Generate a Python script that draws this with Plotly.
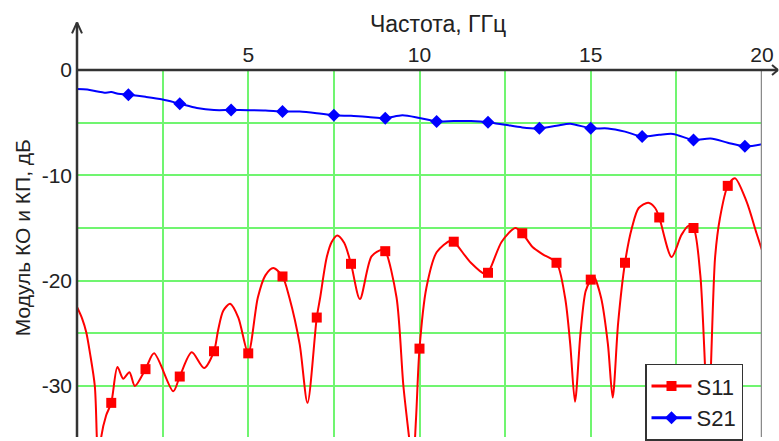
import plotly.graph_objects as go

# ---------------- data ----------------
s11_freq = [0.0, 0.15, 0.27, 0.38, 0.52, 0.58, 0.64, 0.70, 0.85, 1.0, 1.18, 1.35, 1.53, 1.69,
            2.0, 2.25, 2.81, 3.0, 3.35, 3.71, 4.0, 4.12, 4.27, 4.47, 4.71, 5.0, 5.28, 5.5,
            5.73, 6.0, 6.2, 6.5, 6.73, 7.0, 7.1, 7.29, 7.44, 7.6, 7.8, 8.0, 8.26, 8.6, 8.9,
            9.0, 9.33, 9.53, 9.7, 9.8, 9.9, 10.0, 10.2, 10.5, 10.9, 11.0, 11.5, 11.9, 12.0,
            12.4, 12.8, 13.0, 13.3, 13.6, 14.0, 14.25, 14.4, 14.54, 14.7, 14.85, 15.0, 15.08,
            15.3, 15.5, 15.64, 15.8, 16.0, 16.2, 16.4, 16.68, 16.88, 17.0, 17.36, 17.65, 17.85,
            18.0, 18.2, 18.43, 18.63, 18.77, 19.0, 19.21, 19.55, 19.84, 20.0]
s11_db = [-22.5, -23.6, -24.9, -26.9, -30.0, -35.0, -40.0, -35.0, -32.8, -31.6, -28.2, -29.3,
          -28.7, -30.0, -28.4, -26.9, -30.5, -29.1, -26.8, -28.3, -26.7, -24.7, -22.85, -22.2,
          -23.5, -26.9, -21.6, -19.5, -18.8, -19.6, -21.6, -26.0, -31.6, -23.5, -21.6, -17.8,
          -16.3, -15.7, -16.4, -18.4, -21.75, -17.7, -17.06, -17.2, -21.6, -30.0, -35.0, -38.0,
          -33.0, -26.45, -20.7, -17.3, -16.2, -16.3, -18.3, -19.35, -19.25, -16.3, -15.0, -15.5,
          -16.8, -17.5, -18.3, -21.6, -26.0, -31.5, -25.0, -21.0, -19.9, -19.56, -21.6, -26.0,
          -31.1, -24.0, -18.3, -15.0, -13.1, -12.6, -13.1, -14.0, -17.75, -15.65, -14.8, -15.0,
          -19.5, -33.0, -17.8, -14.1, -11.0, -10.27, -12.5, -15.5, -17.1]
s11_mark_freq = [1, 2, 3, 4, 5, 6, 7, 8, 9, 10, 11, 12, 13, 14, 15, 16, 17, 18, 19]
s11_mark_db = [-31.6, -28.4, -29.1, -26.7, -26.9, -19.6, -23.5, -18.4, -17.2, -26.45, -16.3,
               -19.25, -15.5, -18.3, -19.9, -18.3, -14.0, -15.0, -11.0]

s21_freq = [0.0, 0.3, 0.6, 0.8, 1.0, 1.2, 1.5, 2.0, 2.5, 3.0, 3.5, 4.0, 4.5, 5.0, 5.5, 6.0,
            6.5, 7.0, 7.5, 8.0, 8.5, 9.0, 9.5, 10.0, 10.5, 11.0, 11.5, 12.0, 12.5, 13.0,
            13.5, 14.0, 14.4, 15.0, 15.5, 16.0, 16.5, 17.0, 17.4, 18.0, 18.5, 19.0, 19.5, 20.0]
s21_db = [-1.8, -1.85, -2.05, -2.15, -2.1, -2.25, -2.35, -2.55, -2.8, -3.2, -3.6, -3.8, -3.8,
          -3.82, -3.85, -3.94, -3.95, -4.1, -4.3, -4.35, -4.45, -4.57, -4.29, -4.55, -4.88,
          -4.85, -4.85, -4.95, -5.2, -5.45, -5.54, -5.3, -5.1, -5.54, -5.55, -5.85, -6.32,
          -6.15, -6.07, -6.64, -6.5, -6.9, -7.25, -7.04]
s21_mark_freq = [1.5, 3.0, 4.5, 6.0, 7.5, 9.0, 10.5, 12.0, 13.5, 15.0, 16.5, 18.0, 19.5]
s21_mark_db = [-2.35, -3.2, -3.8, -3.94, -4.3, -4.57, -4.88, -4.95, -5.54, -5.54, -6.32,
               -6.64, -7.25]

x_tickvals = [2.5, 5, 7.5, 10, 12.5, 15, 17.5, 20]
x_ticktext = ["", "5", "", "10", "", "15", "", "20"]
y_tickvals = [0, -5, -10, -15, -20, -25, -30]
y_ticktext = ["0", "", "-10", "", "-20", "", "-30"]

# ---------------- layout geometry ----------------
W, H = 779, 441
L, R, T, B = 77, 762, 70, 441
def px(x):
    return (x - L) / (R - L)
def py(y):
    return (B - y) / (B - T)

FONT = "Arial, Liberation Sans, sans-serif"
RED = "#ff0000"
BLUE = "#0000ff"
GRID = "#70f570"
AX = "#333333"

fig = go.Figure()
fig.add_trace(go.Scatter(x=s11_freq, y=s11_db, mode="lines", line=dict(color=RED, width=2, shape="spline", smoothing=0.8),
                         showlegend=False, hoverinfo="skip"))
fig.add_trace(go.Scatter(x=s11_mark_freq, y=s11_mark_db, mode="markers",
                         marker=dict(symbol="square", size=10, color=RED), showlegend=False))
fig.add_trace(go.Scatter(x=s21_freq, y=s21_db, mode="lines", line=dict(color=BLUE, width=2, shape="spline", smoothing=0.8),
                         showlegend=False, hoverinfo="skip"))
fig.add_trace(go.Scatter(x=s21_mark_freq, y=s21_mark_db, mode="markers",
                         marker=dict(symbol="diamond", size=10, color=BLUE), showlegend=False))
# legend entries
fig.add_trace(go.Scatter(x=[None], y=[None], mode="lines+markers", name="S11",
                         line=dict(color=RED, width=3), marker=dict(symbol="square", size=10, color=RED)))
fig.add_trace(go.Scatter(x=[None], y=[None], mode="lines+markers", name="S21",
                         line=dict(color=BLUE, width=3), marker=dict(symbol="diamond", size=10, color=BLUE)))

shapes = [
    # right border at 20 GHz
    dict(type="line", xref="x", yref="paper", x0=20, x1=20, y0=0, y1=1, line=dict(color="#8a8a8a", width=2.5)),
    # y axis line extension + arrow
    dict(type="line", xref="paper", yref="paper", x0=px(77), x1=px(77), y0=py(441), y1=py(22), line=dict(color=AX, width=2.5)),
    dict(type="line", xref="paper", yref="paper", x0=px(72), x1=px(77), y0=py(33), y1=py(22), line=dict(color=AX, width=2)),
    dict(type="line", xref="paper", yref="paper", x0=px(82), x1=px(77), y0=py(33), y1=py(22), line=dict(color=AX, width=2)),
    # x axis line + arrow
    dict(type="line", xref="paper", yref="paper", x0=px(77), x1=px(778), y0=py(70), y1=py(70), line=dict(color=AX, width=2.5)),
    dict(type="line", xref="paper", yref="paper", x0=px(772), x1=px(778), y0=py(65), y1=py(70), line=dict(color=AX, width=2)),
    dict(type="line", xref="paper", yref="paper", x0=px(772), x1=px(778), y0=py(75), y1=py(70), line=dict(color=AX, width=2)),
]

annotations = [
    dict(text="Частота, ГГц", xref="paper", yref="paper", x=px(438), y=py(24), showarrow=False,
         font=dict(family=FONT, size=23, color="#222222"), xanchor="center", yanchor="middle"),
    dict(text="Модуль КО и КП, дБ", xref="paper", yref="paper", x=px(22), y=py(240), showarrow=False,
         textangle=-90, font=dict(family=FONT, size=21, color="#222222"), xanchor="center", yanchor="middle"),
]

fig.update_layout(
    width=W, height=H,
    margin=dict(l=L, r=W - R, t=T, b=H - B, pad=0),
    paper_bgcolor="white", plot_bgcolor="white",
    font=dict(family=FONT, size=20, color="#222222"),
    shapes=shapes, annotations=annotations,
    xaxis=dict(range=[0, 20], side="top", tickvals=x_tickvals, ticktext=x_ticktext,
               showgrid=True, gridcolor=GRID, gridwidth=2, zeroline=False, showline=False,
               ticks="", ticklabelstandoff=3, tickfont=dict(size=21, family=FONT)),
    yaxis=dict(range=[-34.84, 0], tickvals=y_tickvals, ticktext=y_ticktext,
               showgrid=True, gridcolor=GRID, gridwidth=2, zeroline=False, showline=False,
               ticks="", ticklabelstandoff=4, tickfont=dict(size=21, family=FONT)),
    legend=dict(x=px(645), y=py(367), xanchor="left", yanchor="top", bgcolor="white",
                bordercolor="#333333", borderwidth=1.5, font=dict(size=22, family=FONT),
                itemwidth=40, tracegroupgap=0),
    showlegend=True,
)

fig.write_html("out.html")
